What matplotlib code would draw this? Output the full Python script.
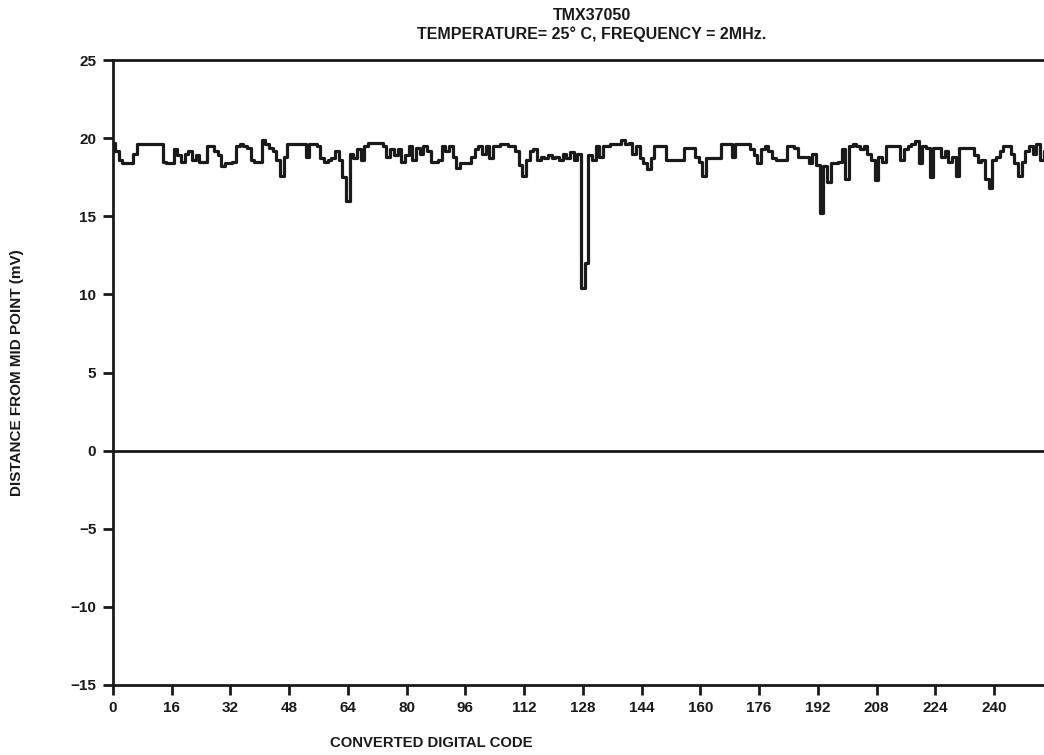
import matplotlib
matplotlib.use("Agg")
import matplotlib.pyplot as plt
import numpy as np

codes = list(range(256))
distance_mv = [
    19.7, 19.2, 18.6, 18.4, 18.4, 18.4, 19.0, 19.6, 19.6, 19.6, 19.6, 19.6, 19.6, 19.6, 18.5, 18.4,
    18.4, 19.3, 18.9, 18.5, 19.0, 19.2, 18.6, 18.9, 18.5, 18.5, 19.5, 19.5, 19.2, 18.9, 18.2, 18.4,
    18.4, 18.5, 19.5, 19.6, 19.5, 19.4, 18.6, 18.5, 18.5, 19.9, 19.6, 19.4, 19.2, 18.6, 17.6, 18.8,
    19.6, 19.6, 19.6, 19.6, 19.6, 18.8, 19.6, 19.6, 19.5, 18.7, 18.5, 18.6, 18.7, 19.2, 18.6, 17.5,
    16.0, 19.0, 18.7, 19.3, 18.6, 19.5, 19.7, 19.7, 19.7, 19.7, 19.5, 18.8, 19.3, 18.9, 19.3, 18.5,
    18.9, 19.5, 18.6, 19.4, 19.0, 19.5, 19.2, 18.5, 18.5, 18.6, 19.5, 19.2, 19.5, 18.8, 18.1, 18.4,
    18.4, 18.4, 18.8, 19.3, 19.5, 19.0, 19.5, 18.7, 19.5, 19.5, 19.6, 19.6, 19.5, 19.5, 19.2, 18.3,
    17.6, 18.6, 19.2, 19.3, 18.6, 18.8, 18.7, 18.9, 18.7, 18.8, 18.6, 19.0, 18.7, 19.1, 18.6, 19.0,
    10.4, 12.0, 18.9, 18.6, 19.5, 18.8, 19.5, 19.5, 19.6, 19.6, 19.6, 19.9, 19.6, 19.7, 19.0, 19.5,
    18.7, 18.4, 18.0, 18.7, 19.5, 19.5, 19.5, 18.6, 18.6, 18.6, 18.6, 18.6, 19.4, 19.4, 19.4, 18.8,
    18.5, 17.6, 18.7, 18.7, 18.7, 18.7, 19.6, 19.6, 19.6, 18.8, 19.6, 19.6, 19.6, 19.6, 19.3, 18.9,
    18.4, 19.3, 19.5, 19.2, 18.7, 18.6, 18.6, 18.6, 19.5, 19.5, 19.4, 18.8, 18.8, 18.8, 18.4, 19.0,
    18.3, 15.2, 18.2, 17.2, 18.4, 18.4, 18.5, 19.3, 17.4, 19.5, 19.6, 19.5, 19.3, 19.5, 19.0, 18.6,
    17.3, 18.8, 18.5, 19.5, 19.5, 19.5, 19.5, 18.6, 19.3, 19.5, 19.6, 19.8, 18.4, 19.5, 19.4, 17.5,
    19.4, 19.4, 18.8, 19.2, 18.5, 18.8, 17.6, 19.4, 19.4, 19.4, 19.4, 18.9, 18.5, 18.6, 17.4, 16.8,
    18.6, 18.8, 19.2, 19.5, 19.5, 19.0, 18.4, 17.6, 18.5, 19.2, 19.5, 19.0, 19.6, 18.6, 19.2, 18.8,
]
x_ticks = [0, 16, 32, 48, 64, 80, 96, 112, 128, 144, 160, 176, 192, 208, 224, 240]
y_ticks = [-15, -10, -5, 0, 5, 10, 15, 20, 25]
title_lines = ["TMX37050", "TEMPERATURE= 25\u00b0 C, FREQUENCY = 2MHz."]

plt.rcParams['font.family'] = ['Liberation Sans', 'DejaVu Sans']
plt.rcParams['font.weight'] = 'bold'

fig = plt.figure(figsize=(10.44, 7.55), dpi=100)
ax = fig.add_axes([113/1044, 70/755, 1 - 113/1044, 625/755])

ax.plot(codes, distance_mv, color='#1a1a1a', linewidth=2.3, drawstyle='steps-mid')
ax.axhline(0, color='#1a1a1a', linewidth=2)

ax.set_xlim(0, 253.6)
ax.set_ylim(-15, 25)
ax.set_xticks(x_ticks)
ax.set_yticks(y_ticks)
ax.set_yticklabels([str(v).replace('-', '\u2212') for v in y_ticks])
ax.tick_params(axis='both', direction='out', length=7.5, width=2, labelsize=11,
               color='#1a1a1a', labelcolor='#1a1a1a')
ax.tick_params(axis='x', pad=4.3)
ax.tick_params(axis='y', pad=4.5)
for lbl in ax.get_xticklabels() + ax.get_yticklabels():
    lbl.set_fontweight('bold')

for side in ['left', 'bottom', 'top']:
    ax.spines[side].set_linewidth(2)
    ax.spines[side].set_color('#1a1a1a')
ax.spines['right'].set_visible(False)

fig.text(592/1044, 1 - 15/755, title_lines[0], ha='center', va='center',
         fontsize=11.5, fontweight='bold', color='#1a1a1a')
fig.text(592/1044, 1 - 34/755, title_lines[1], ha='center', va='center',
         fontsize=11.5, fontweight='bold', color='#1a1a1a')
fig.text(431/1044, 1 - 743/755, "CONVERTED DIGITAL CODE", ha='center', va='center',
         fontsize=10.7, fontweight='bold', color='#1a1a1a')
fig.text(17/1044, 1 - 373/755, "DISTANCE FROM MID POINT (mV)", ha='center', va='center',
         rotation=90, fontsize=11, fontweight='bold', color='#1a1a1a')

fig.savefig("out.png", dpi=100)
